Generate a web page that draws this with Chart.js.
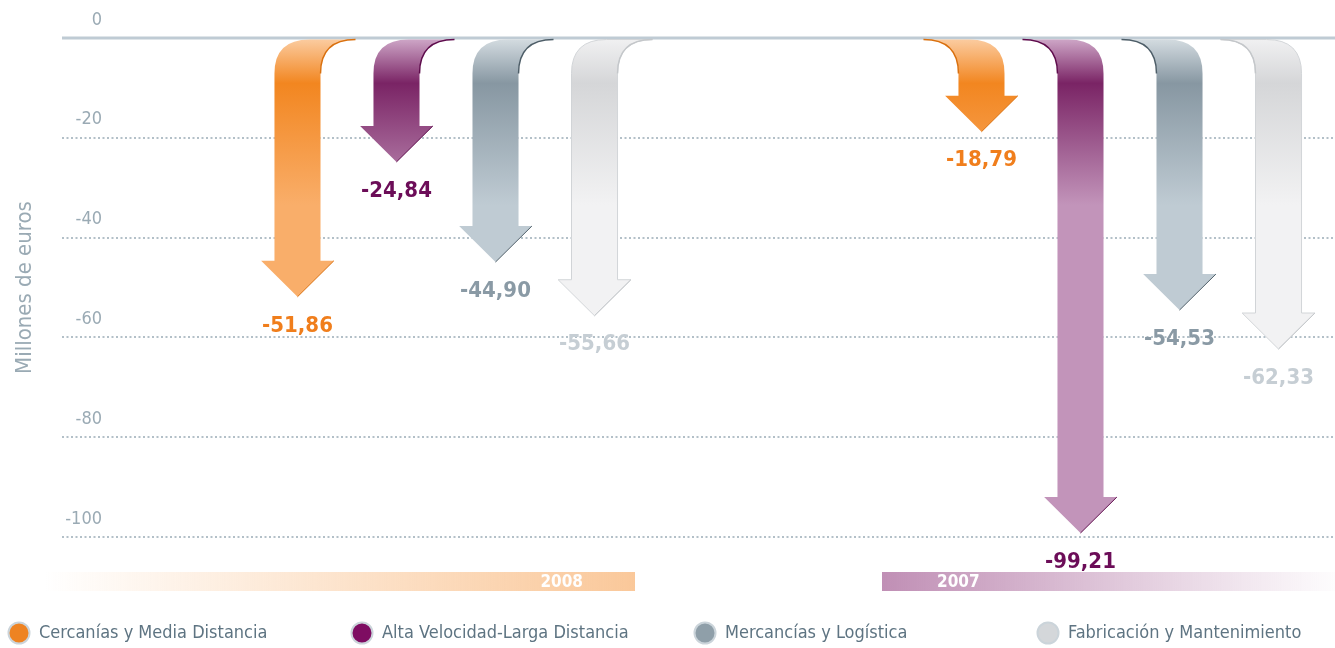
<!DOCTYPE html>
<html lang="es">
<head>
<meta charset="utf-8">
<title>Millones de euros</title>
<script src="https://cdn.jsdelivr.net/npm/chart.js@4.4.1/dist/chart.umd.min.js"></script>
<style>
  html, body { margin: 0; padding: 0; background: #fff; overflow: hidden; }
  #wrap { width: 1480px; height: 648px; }
</style>
</head>
<body>
<div id="wrap"><canvas id="resultsChart" width="1480" height="648"></canvas></div>
<script>
// data
var years = ['2008', '2007'];
var seriesNames = ['Cercanías y Media Distancia', 'Alta Velocidad-Larga Distancia', 'Mercancías y Logística', 'Fabricación y Mantenimiento'];
var cercanias = [-51.86, -18.79];
var altaVelocidad = [-24.84, -99.21];
var mercancias = [-44.90, -54.53];
var fabricacion = [-55.66, -62.33];

var FONT = "'Liberation Sans Narrow', 'DejaVu Sans Condensed', 'Open Sans', sans-serif";
var AXIS_COLOR = '#9AAAB4';

// one look per series
var styles = [
  { top: '#FBCB9F', dark: '#F28620', bottom: '#F9AE6A', edge: '#D9700F', label: '#F07E1C', legend: '#EE8322' },
  { top: '#CDA5C6', dark: '#7A2465', bottom: '#C294BA', edge: '#5E0C4C', label: '#6C0D58', legend: '#7E0D62' },
  { top: '#D3DBE0', dark: '#8797A2', bottom: '#BFCBD3', edge: '#4E5E68', label: '#8A9AA5', legend: '#8F9FA9' },
  { top: '#F0F0F1', dark: '#D5D6D8', bottom: '#F2F2F3', edge: '#C4C7CA', label: '#C6CED4', legend: '#D4D7DA', outline: '#D2D5D8' }
];
var bendDir = [1, -1];           // 2008 arrows bend right, 2007 bend left
var bandSpan = [[-401, 189], [-248, 215]];
var bandColors = [['rgba(250,200,154,0)', 'rgba(250,200,154,1)'], ['rgba(192,143,181,1)', 'rgba(192,143,181,0)']];

function fmt(v) { return v.toFixed(2).replace('.', ','); }

var gridPlugin = {
  id: 'fullGrid',
  beforeDatasetsDraw: function (chart) {
    var ctx = chart.ctx, y = chart.scales.y;
    ctx.save();
    y.ticks.forEach(function (t) {
      var py = Math.round(y.getPixelForValue(t.value));
      ctx.beginPath();
      if (t.value === 0) {
        ctx.setLineDash([]);
        ctx.lineWidth = 3;
        ctx.strokeStyle = '#BFCBD4';
      } else {
        ctx.setLineDash([2, 2.5]);
        ctx.lineWidth = 2;
        ctx.strokeStyle = '#B3C0C8';
      }
      ctx.moveTo(62, py);
      ctx.lineTo(chart.width, py);
      ctx.stroke();
    });
    ctx.restore();
  }
};

var arrowPlugin = {
  id: 'arrows',
  afterDatasetsDraw: function (chart) {
    var ctx = chart.ctx;
    chart.data.datasets.forEach(function (ds, i) {
      var st = styles[i];
      chart.getDatasetMeta(i).data.forEach(function (bar, j) {
        var dir = bendDir[j];
        var x = bar.x, w = bar.width, tip = bar.y, y0 = bar.base + 1.5;
        var L = x - w / 2, R = x + w / 2;
        var hw = w * 0.79, hh = 36, bh = 34, dx = 35 * dir;
        var sb = tip - hh;
        ctx.save();
        ctx.beginPath();
        ctx.moveTo(L, sb);
        ctx.lineTo(L, y0 + bh);
        ctx.quadraticCurveTo(L, y0, L + dx, y0);
        ctx.lineTo(R + dx, y0);
        ctx.quadraticCurveTo(R, y0, R, y0 + bh);
        ctx.lineTo(R, sb);
        ctx.lineTo(x + hw, sb);
        ctx.lineTo(x, tip);
        ctx.lineTo(x - hw, sb);
        ctx.closePath();
        var g = ctx.createLinearGradient(0, y0, 0, y0 + 230);
        g.addColorStop(0, st.top);
        g.addColorStop(0.19, st.dark);
        g.addColorStop(0.72, st.bottom);
        g.addColorStop(1, st.bottom);
        ctx.fillStyle = g;
        ctx.fill();
        if (st.outline) {
          ctx.strokeStyle = st.outline;
          ctx.lineWidth = 1;
          ctx.stroke();
        }
        // fold edge on the bend side
        var ex = dir > 0 ? R : L;
        ctx.beginPath();
        ctx.moveTo(ex, y0 + bh);
        ctx.quadraticCurveTo(ex, y0, ex + dx, y0);
        ctx.strokeStyle = st.edge;
        ctx.lineWidth = 1.5;
        ctx.stroke();
        ctx.beginPath();
        ctx.moveTo(x + hw, sb);
        ctx.lineTo(x, tip);
        ctx.lineWidth = 1;
        ctx.stroke();
        ctx.restore();

        ctx.save();
        ctx.font = 'bold 22px ' + FONT;
        ctx.fillStyle = st.label;
        ctx.textAlign = 'center';
        ctx.textBaseline = 'middle';
        ctx.fillText(fmt(ds.data[j]), x, tip + 29);
        ctx.restore();
      });
    });
  }
};

var bandPlugin = {
  id: 'yearBands',
  afterDraw: function (chart) {
    var ctx = chart.ctx, xs = chart.scales.x;
    var top = chart.chartArea.bottom + 35, h = 19;
    years.forEach(function (yr, j) {
      var cx = xs.getPixelForValue(j);
      var x1 = cx + bandSpan[j][0], x2 = cx + bandSpan[j][1];
      var g = ctx.createLinearGradient(x1, 0, x2, 0);
      g.addColorStop(0, bandColors[j][0]);
      g.addColorStop(1, bandColors[j][1]);
      ctx.save();
      ctx.fillStyle = g;
      ctx.fillRect(x1, top, x2 - x1, h);
      ctx.font = 'bold 17px ' + FONT;
      ctx.fillStyle = '#ffffff';
      ctx.textBaseline = 'middle';
      if (j === 0) {
        ctx.textAlign = 'right';
        ctx.fillText(yr, x2 - 52, top + h / 2 + 1);
      } else {
        ctx.textAlign = 'left';
        ctx.fillText(yr, x1 + 55, top + h / 2 + 1);
      }
      ctx.restore();
    });
  }
};

var legendPlugin = {
  id: 'rowLegend',
  afterDraw: function (chart) {
    var ctx = chart.ctx;
    chart.data.datasets.forEach(function (ds, i) {
      var cx = 19 + i * 343, cy = 633;
      ctx.save();
      ctx.beginPath();
      ctx.arc(cx, cy, 10.5, 0, Math.PI * 2);
      ctx.fillStyle = styles[i].legend;
      ctx.fill();
      ctx.lineWidth = 2;
      ctx.strokeStyle = '#CBD4DA';
      ctx.stroke();
      ctx.font = '18px ' + FONT;
      ctx.fillStyle = '#5E7482';
      ctx.textAlign = 'left';
      ctx.textBaseline = 'middle';
      ctx.fillText(ds.label, cx + 20, cy);
      ctx.restore();
    });
  }
};

var seriesData = [cercanias, altaVelocidad, mercancias, fabricacion];

var chart = new Chart(document.getElementById('resultsChart'), {
  type: 'bar',
  data: {
    labels: years,
    datasets: seriesData.map(function (d, i) {
      return {
        label: seriesNames[i],
        data: d,
        backgroundColor: 'rgba(0,0,0,0)',
        borderWidth: 0
      };
    })
  },
  options: {
    responsive: false,
    animation: false,
    datasets: { bar: { categoryPercentage: 0.579, barPercentage: 0.465 } },
    layout: { padding: { top: 38, bottom: 111, left: 0, right: 8 } },
    plugins: { legend: { display: false }, tooltip: { enabled: false } },
    scales: {
      x: { display: false },
      y: {
        min: -100,
        max: 0,
        afterFit: function (s) { s.width = 104; },
        grid: { display: false, drawTicks: false },
        border: { display: false },
        ticks: {
          stepSize: 20,
          padding: 2,
          labelOffset: -18,
          color: AXIS_COLOR,
          font: { family: FONT, size: 18 },
          callback: function (v) { return String(v); }
        },
        title: {
          display: true,
          text: 'Millones de euros',
          color: AXIS_COLOR,
          font: { family: FONT, size: 22 },
          padding: { top: 12, bottom: 0 }
        }
      }
    }
  },
  plugins: [gridPlugin, arrowPlugin, bandPlugin, legendPlugin]
});
</script>
</body>
</html>
